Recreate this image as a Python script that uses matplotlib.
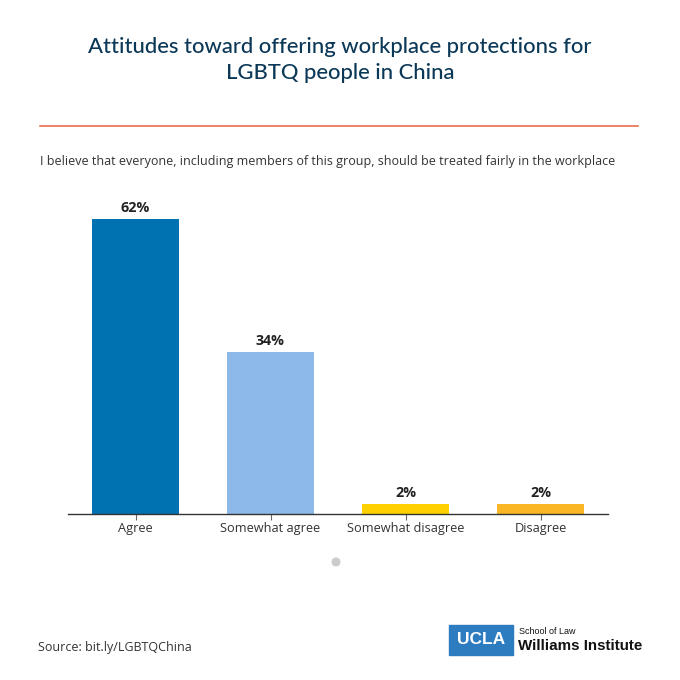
import matplotlib
matplotlib.use("Agg")
import matplotlib.pyplot as plt
from matplotlib.patches import Rectangle, Circle
from matplotlib.lines import Line2D

categories = ["Agree", "Somewhat agree", "Somewhat disagree", "Disagree"]
values = [62, 34, 2, 2]
value_labels = ["62%", "34%", "2%", "2%"]
colors = ["#0071b1", "#8db9e9", "#ffd100", "#fbb625"]

W = H = 680
fig = plt.figure(figsize=(6.8, 6.8), dpi=100)
fig.patch.set_facecolor("white")

def fx(px):
    return px / W

def fy(py):
    return 1 - py / H

title_color = "#0b3857"
fig.text(0.5, fy(47), "Attitudes toward offering workplace protections for",
         ha="center", va="center", fontsize=15.8, fontweight="medium", color=title_color, family="Lato")
fig.text(0.5, fy(73), "LGBTQ people in China",
         ha="center", va="center", fontsize=15.8, fontweight="medium", color=title_color, family="Lato")
fig.add_artist(Line2D([fx(40), fx(638)], [fy(126), fy(126)], color="#e8603c", lw=1.1))

fig.text(fx(40), fy(162), "I believe that everyone, including members of this group, should be treated fairly in the workplace",
         ha="left", va="center", fontsize=9.0, color="#333333", family="Open Sans")

# axes
ax_left, ax_right, ax_bottom = 68, 608, 514
ymax = 66
px_per_unit = 295 / 62
ax_h = ymax * px_per_unit
ax = fig.add_axes([fx(ax_left), fy(ax_bottom), (ax_right - ax_left) / W, ax_h / H])
x = list(range(len(categories)))
ax.bar(x, values, width=0.64, color=colors)
ax.set_xlim(-0.5, len(categories) - 0.5)
ax.set_ylim(0, ymax)
for s in ["top", "right", "left"]:
    ax.spines[s].set_visible(False)
ax.spines["bottom"].set_color("#333333")
ax.spines["bottom"].set_linewidth(1.0)
ax.set_yticks([])
ax.set_xticks(x)
ax.set_xticklabels(categories, fontsize=9.2, color="#333333", family="Open Sans")
ax.tick_params(axis="x", length=4, color="#666666", pad=1.5)
for xi, v, lab in zip(x, values, value_labels):
    ax.annotate(lab, (xi, v), xytext=(0, 3), textcoords="offset points",
                ha="center", va="bottom", fontsize=10.3, fontweight="bold",
                color="#222222", family="Open Sans")

# pager dot
fig.add_artist(Circle((fx(336), fy(562)), 3.8 / W, color="#cccccc", transform=fig.transFigure))

fig.text(fx(38), fy(647), "Source: bit.ly/LGBTQChina", ha="left", va="center",
         fontsize=9.0, color="#333333", family="Open Sans")

# logo
fig.add_artist(Rectangle((fx(449), fy(655)), 64 / W, 30 / H, color="#2d7cc0",
                         transform=fig.transFigure))
fig.text(fx(481), fy(640), "UCLA", ha="center", va="center", fontsize=12.5,
         fontweight="bold", color="white", family="Liberation Sans")
fig.text(fx(519), fy(632), "School of Law", ha="left", va="center", fontsize=6.5,
         color="#111111", family="Liberation Sans")
fig.text(fx(518), fy(646), "Williams Institute", ha="left", va="center", fontsize=10.9,
         fontweight="bold", color="#111111", family="Liberation Sans")

fig.savefig("out.png", dpi=100, facecolor="white")
